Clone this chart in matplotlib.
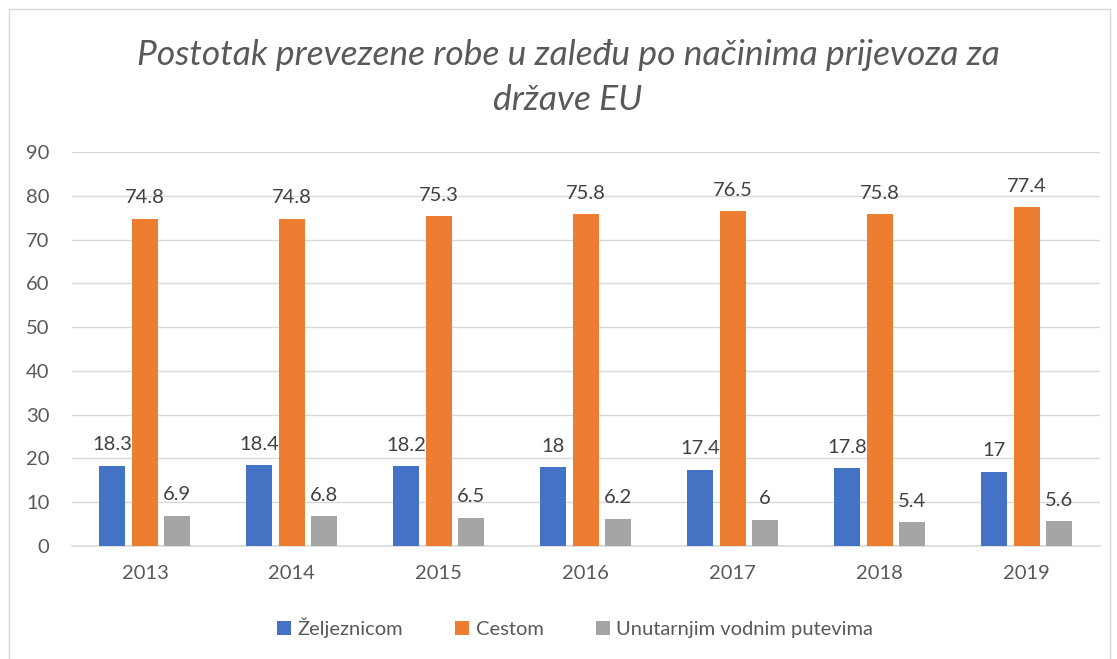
import numpy as np
import matplotlib
matplotlib.use("Agg")
import matplotlib.pyplot as plt
from matplotlib.patches import Rectangle

plt.rcParams['font.family'] = ['Lato', 'DejaVu Sans']

years = ["2013", "2014", "2015", "2016", "2017", "2018", "2019"]
zeljeznicom = [18.3, 18.4, 18.2, 18, 17.4, 17.8, 17]
cestom = [74.8, 74.8, 75.3, 75.8, 76.5, 75.8, 77.4]
vodnim = [6.9, 6.8, 6.5, 6.2, 6, 5.4, 5.6]
series_names = ["Željeznicom", "Cestom", "Unutarnjim vodnim putevima"]
colors = ["#4472C4", "#ED7D31", "#A5A5A5"]

W, H = 1117, 659
fig = plt.figure(figsize=(W / 100, H / 100), dpi=100)
ax = fig.add_axes([71.5 / W, 1 - 546 / H, (1100 - 71.5) / W, (546 - 152) / H])

# frame around the chart
fig.patches.append(Rectangle((9 / W, -0.01), (1110 - 9) / W, 1 - 9 / H + 0.01,
                             transform=fig.transFigure, fill=False,
                             edgecolor="#d9d9d9", linewidth=1))

x = np.arange(len(years))
width = 0.177
offset = 0.221
for i, (vals, name) in enumerate(zip([zeljeznicom, cestom, vodnim], series_names)):
    bars = ax.bar(x + (i - 1) * offset, vals, width, color=colors[i], label=name, zorder=3)
    for b, v in zip(bars, vals):
        ax.annotate(f"{v:g}", (b.get_x() + b.get_width() / 2, v),
                    xytext=(0, 9), textcoords="offset points",
                    ha="center", va="bottom", fontsize=14.5, color="#404040")

ax.set_xlim(-0.5, 6.5)
ax.set_ylim(0, 90)
ax.set_yticks(range(0, 91, 10))
ax.set_xticks(x)
ax.set_xticklabels(years)
ax.tick_params(axis="both", length=0, labelsize=14.5, colors="#595959")
ax.tick_params(axis="y", pad=16)
ax.tick_params(axis="x", pad=14)
ax.grid(axis="y", color="#d9d9d9", linewidth=1, zorder=0)
for s in ["top", "right", "left"]:
    ax.spines[s].set_visible(False)
ax.spines["bottom"].set_color("#d9d9d9")
ax.spines["bottom"].set_linewidth(1.2)

fig.text(568 / W, 1 - 55 / H, "Postotak prevezene robe u zaleđu po načinima prijevoza za",
         ha="center", va="center", fontsize=25.5, style="italic", color="#595959")
fig.text(568 / W, 1 - 100 / H, "države EU",
         ha="center", va="center", fontsize=25.5, style="italic", color="#595959")

fig.legend(loc="center", bbox_to_anchor=(575 / W, 1 - 628 / H), ncol=3, frameon=False,
           fontsize=14.5, labelcolor="#595959", handlelength=0.7, handleheight=0.7,
           handletextpad=0.3, columnspacing=2.6)

fig.savefig("out.png", dpi=100)
